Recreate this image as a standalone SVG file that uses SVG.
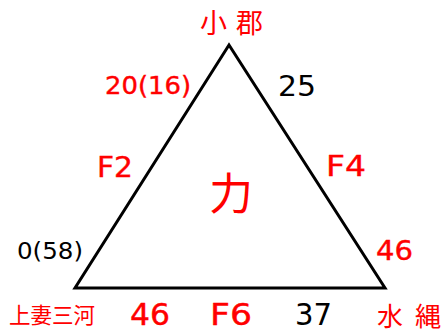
<svg xmlns="http://www.w3.org/2000/svg" width="446" height="332" viewBox="0 0 446 332">
<style>
.r{fill:#ff0000;stroke:#ff0000;stroke-width:0.4;font-family:"DejaVu Sans","Liberation Sans",sans-serif}
.k{fill:#000;font-family:"DejaVu Sans","Liberation Sans",sans-serif}
.cj{fill:#ff0000;font-family:"Noto Sans CJK JP",sans-serif}
</style>
<rect width="446" height="332" fill="#fff"/>
<g id="connectors">
<polygon points="229,45 75,288 385,288" fill="none" stroke="#000" stroke-width="3" stroke-linejoin="miter"/>
</g>
<g id="node-top">
<text class="cj" x="200" y="33" font-size="27" textLength="63" lengthAdjust="spacing">小 郡</text>
<text class="r" x="105" y="94" font-size="24" textLength="86" lengthAdjust="spacingAndGlyphs">20(16)</text>
<text class="k" x="278" y="96" font-size="28" textLength="38" lengthAdjust="spacingAndGlyphs">25</text>
</g>
<g id="node-left">
<text class="k" x="17" y="259" font-size="23" textLength="66" lengthAdjust="spacingAndGlyphs">0(58)</text>
<text class="cj" x="9" y="323" font-size="22" textLength="86" lengthAdjust="spacingAndGlyphs">上妻三河</text>
</g>
<g id="node-right">
<text class="r" x="376" y="260" font-size="26" textLength="37" lengthAdjust="spacingAndGlyphs">46</text>
<text class="cj" x="377" y="326" font-size="26" textLength="64" lengthAdjust="spacing">水 縄</text>
</g>
<g id="edge-labels">
<text class="r" x="97" y="177" font-size="28" textLength="36" lengthAdjust="spacingAndGlyphs">F2</text>
<text class="r" x="326" y="176" font-size="28" textLength="40" lengthAdjust="spacingAndGlyphs">F4</text>
<text class="r" x="130" y="325" font-size="30" textLength="40" lengthAdjust="spacingAndGlyphs">46</text>
<text class="r" x="210" y="325" font-size="30" textLength="42" lengthAdjust="spacingAndGlyphs">F6</text>
<text class="k" x="295" y="325" font-size="30" textLength="37" lengthAdjust="spacingAndGlyphs">37</text>
</g>
<g id="node-center">
<text class="cj" x="231" y="210" font-size="44" text-anchor="middle">力</text>
</g>
</svg>
